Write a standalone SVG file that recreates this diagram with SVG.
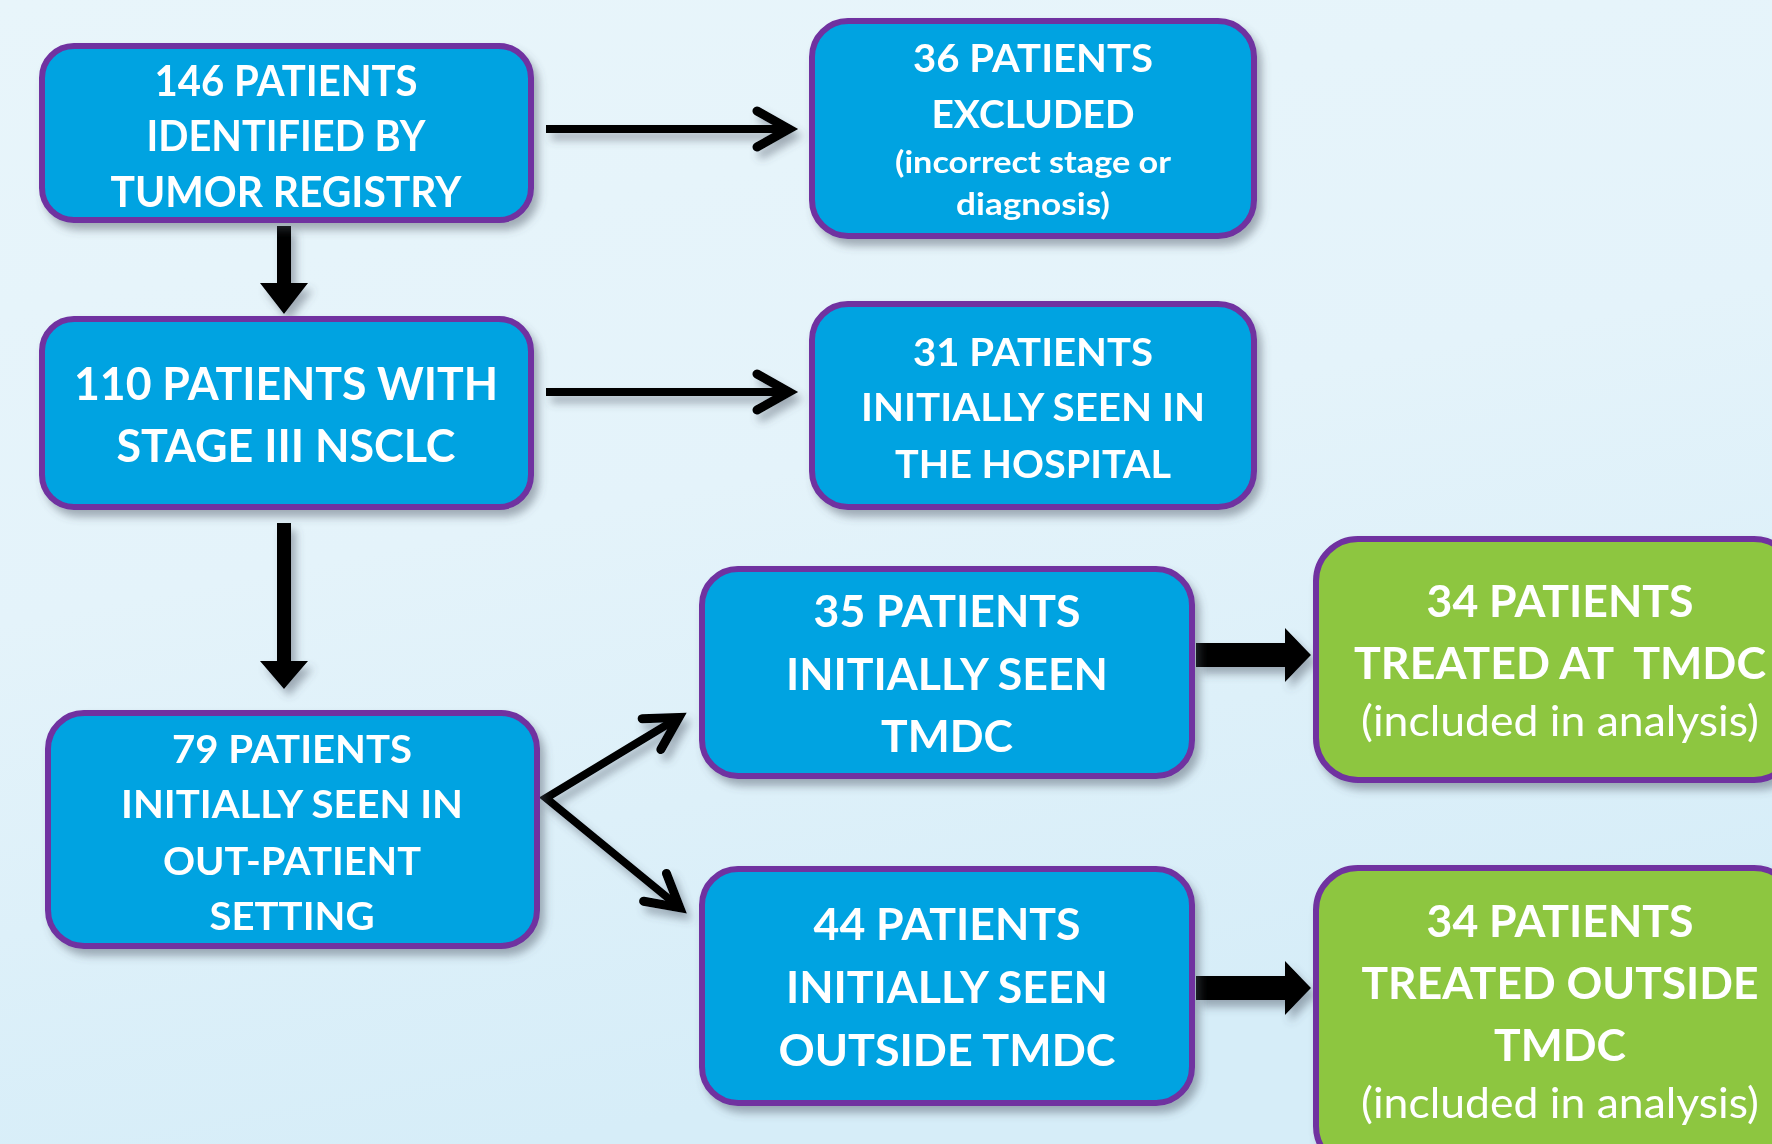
<svg xmlns="http://www.w3.org/2000/svg" width="1772" height="1144" viewBox="0 0 1772 1144">
<defs>
<linearGradient id="bg" x1="0" y1="0" x2="0.3" y2="1">
<stop offset="0" stop-color="#E8F5FA"/>
<stop offset="0.5" stop-color="#E4F3FA"/>
<stop offset="1" stop-color="#D6EDF8"/>
</linearGradient>
<filter id="sh" x="-10%" y="-10%" width="125%" height="130%">
<feDropShadow dx="5" dy="7" stdDeviation="4" flood-color="#4a5560" flood-opacity="0.45"/>
</filter>
<marker id="chev" markerUnits="userSpaceOnUse" markerWidth="60" markerHeight="52" refX="39" refY="26" orient="auto-start-reverse" viewBox="0 0 60 52">
<polyline points="8,8 40,26 8,44" fill="none" stroke="#000" stroke-width="9" stroke-linecap="round" stroke-linejoin="miter" stroke-miterlimit="10"/>
</marker>
<style>
.box{fill:#00A3E1;stroke:#7030A0;stroke-width:6}
.gbox{fill:#8DC63F;stroke:#7030A0;stroke-width:6}
.t{font-family:Lato,"Open Sans","Liberation Sans",sans-serif;font-weight:700;fill:#fff;text-anchor:middle;white-space:pre}
.r{font-family:Lato,"Open Sans","Liberation Sans",sans-serif;font-weight:400;fill:#fff;text-anchor:middle}
.ln{stroke:#000;stroke-width:8;fill:none}
.blk{fill:#000}
</style>
</defs>
<rect width="1772" height="1144" fill="url(#bg)"/>

<g id="connectors" filter="url(#sh)">
<line class="ln" x1="546" y1="129" x2="788" y2="129" marker-end="url(#chev)"/>
<line class="ln" x1="546" y1="392" x2="788" y2="392" marker-end="url(#chev)"/>
<path class="blk" d="M277,226 H291 V283 H308 L284,314 L260,283 H277 Z"/>
<path class="blk" d="M277,523 H291 V661 H308 L284,689 L260,661 H277 Z"/>
<polyline class="ln" points="678,718 546,798 679,907" stroke-linejoin="miter" marker-start="url(#chev)" marker-end="url(#chev)"/>
<path class="blk" d="M1196,643 H1285 V628 L1311,655 L1285,682 V667 H1196 Z"/>
<path class="blk" d="M1196,976 H1285 V961 L1311,988 L1285,1015 V1000 H1196 Z"/>
</g>

<g id="n146" filter="url(#sh)">
<rect class="box" x="42" y="46" width="489" height="174" rx="32"/>
<text class="t" font-size="42" x="286" y="96" textLength="263" lengthAdjust="spacingAndGlyphs">146 PATIENTS</text>
<text class="t" font-size="42" x="286" y="151" textLength="279" lengthAdjust="spacingAndGlyphs">IDENTIFIED BY</text>
<text class="t" font-size="42" x="286" y="207" textLength="351" lengthAdjust="spacingAndGlyphs">TUMOR REGISTRY</text>
</g>

<g id="n36" filter="url(#sh)">
<rect class="box" x="812" y="21" width="442" height="215" rx="36"/>
<text class="t" font-size="39" x="1033" y="72" textLength="240" lengthAdjust="spacingAndGlyphs">36 PATIENTS</text>
<text class="t" font-size="39" x="1033" y="128" textLength="203" lengthAdjust="spacingAndGlyphs">EXCLUDED</text>
<text class="t" font-size="30" x="1033" y="173" textLength="276" lengthAdjust="spacingAndGlyphs">(incorrect stage or</text>
<text class="t" font-size="30" x="1033" y="215" textLength="154" lengthAdjust="spacingAndGlyphs">diagnosis)</text>
</g>

<g id="n110" filter="url(#sh)">
<rect class="box" x="42" y="319" width="489" height="188" rx="32"/>
<text class="t" font-size="46" x="286" y="400" textLength="424" lengthAdjust="spacingAndGlyphs">110 PATIENTS WITH</text>
<text class="t" font-size="46" x="286" y="462" textLength="339" lengthAdjust="spacingAndGlyphs">STAGE III NSCLC</text>
</g>

<g id="n31" filter="url(#sh)">
<rect class="box" x="812" y="304" width="442" height="203" rx="36"/>
<text class="t" font-size="39" x="1033" y="366" textLength="240" lengthAdjust="spacingAndGlyphs">31 PATIENTS</text>
<text class="t" font-size="39" x="1033" y="421" textLength="344" lengthAdjust="spacingAndGlyphs">INITIALLY SEEN IN</text>
<text class="t" font-size="39" x="1033" y="478" textLength="276" lengthAdjust="spacingAndGlyphs">THE HOSPITAL</text>
</g>

<g id="n79" filter="url(#sh)">
<rect class="box" x="48" y="713" width="489" height="233" rx="36"/>
<text class="t" font-size="39" x="292" y="763" textLength="240" lengthAdjust="spacingAndGlyphs">79 PATIENTS</text>
<text class="t" font-size="39" x="292" y="818" textLength="342" lengthAdjust="spacingAndGlyphs">INITIALLY SEEN IN</text>
<text class="t" font-size="39" x="292" y="875" textLength="258" lengthAdjust="spacingAndGlyphs">OUT-PATIENT</text>
<text class="t" font-size="39" x="292" y="930" textLength="165" lengthAdjust="spacingAndGlyphs">SETTING</text>
</g>

<g id="n35" filter="url(#sh)">
<rect class="box" x="702" y="569" width="490" height="207" rx="36"/>
<text class="t" font-size="44" x="947" y="627" textLength="267" lengthAdjust="spacingAndGlyphs">35 PATIENTS</text>
<text class="t" font-size="44" x="947" y="690" textLength="322" lengthAdjust="spacingAndGlyphs">INITIALLY SEEN</text>
<text class="t" font-size="44" x="947" y="752" textLength="132" lengthAdjust="spacingAndGlyphs">TMDC</text>
</g>

<g id="n44" filter="url(#sh)">
<rect class="box" x="702" y="869" width="490" height="234" rx="36"/>
<text class="t" font-size="44" x="947" y="940" textLength="267" lengthAdjust="spacingAndGlyphs">44 PATIENTS</text>
<text class="t" font-size="44" x="947" y="1003" textLength="322" lengthAdjust="spacingAndGlyphs">INITIALLY SEEN</text>
<text class="t" font-size="44" x="947" y="1066" textLength="337" lengthAdjust="spacingAndGlyphs">OUTSIDE TMDC</text>
</g>

<g id="n34a" filter="url(#sh)">
<rect class="gbox" x="1316" y="539" width="480" height="241" rx="42"/>
<text class="t" font-size="44" x="1560" y="617" textLength="267" lengthAdjust="spacingAndGlyphs">34 PATIENTS</text>
<text class="t" font-size="44" x="1560" y="679" textLength="412" lengthAdjust="spacingAndGlyphs" xml:space="preserve">TREATED AT  TMDC</text>
<text class="r" font-size="42" x="1560" y="736" textLength="398" lengthAdjust="spacingAndGlyphs">(included in analysis)</text>
</g>

<g id="n34b" filter="url(#sh)">
<rect class="gbox" x="1316" y="868" width="480" height="300" rx="42"/>
<text class="t" font-size="44" x="1560" y="937" textLength="267" lengthAdjust="spacingAndGlyphs">34 PATIENTS</text>
<text class="t" font-size="44" x="1560" y="999" textLength="397" lengthAdjust="spacingAndGlyphs">TREATED OUTSIDE</text>
<text class="t" font-size="44" x="1560" y="1061" textLength="132" lengthAdjust="spacingAndGlyphs">TMDC</text>
<text class="r" font-size="42" x="1560" y="1118" textLength="398" lengthAdjust="spacingAndGlyphs">(included in analysis)</text>
</g>
</svg>
